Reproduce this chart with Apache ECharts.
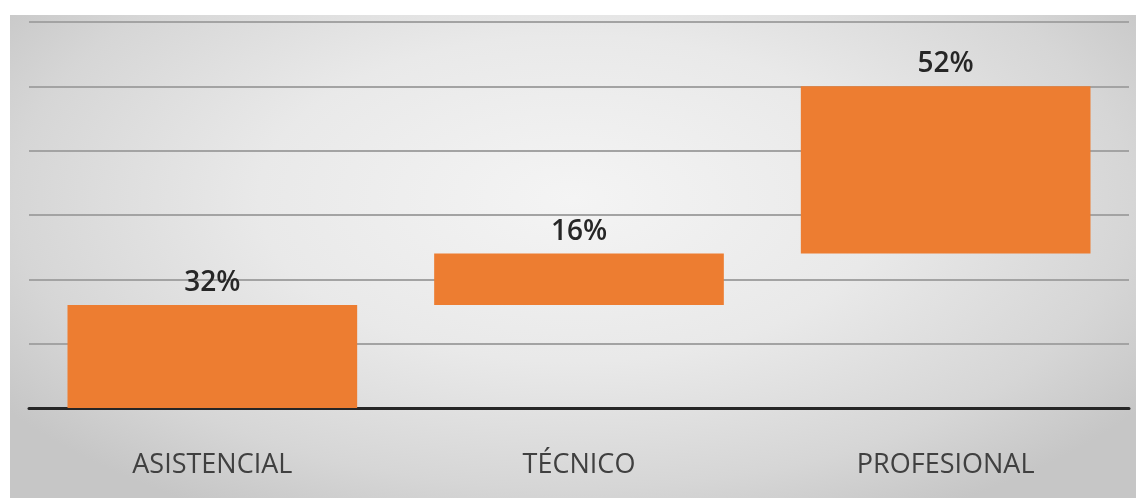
<!DOCTYPE html>
<html>
<head>
<meta charset="utf-8">
<script src="https://cdn.jsdelivr.net/npm/echarts@6/dist/echarts.min.js"></script>
<style>
  html, body { margin: 0; padding: 0; background: #ffffff; }
  #wrap { position: absolute; left: 0; top: 0; width: 1136px; height: 498px; }
  #bg { position: absolute; left: 10px; top: 15px; width: 1126px; height: 483px;
        background: radial-gradient(ellipse 62% 75% at 50% 38%, #f4f4f4 0%, #e9e9e9 45%, #d6d6d6 80%, #c6c6c6 100%); }
  #chart { position: absolute; left: 0; top: 0; width: 1136px; height: 498px; }
</style>
</head>
<body>
<div id="wrap"><div id="bg"></div><div id="chart"></div></div>
<script>
const categories = ['ASISTENCIAL', 'TÉCNICO', 'PROFESIONAL'];
const offsets = [0, 32, 48];
const values = [32, 16, 52];
const yTicks = [0, 20, 40, 60, 80, 100, 120];

const chart = echarts.init(document.getElementById('chart'), null, { renderer: 'canvas' });
chart.setOption({
  backgroundColor: 'transparent',
  animation: false,
  grid: { left: 29, right: 7, top: 22, bottom: 90 },
  xAxis: {
    type: 'category',
    data: categories,
    axisLine: { show: true, lineStyle: { color: '#262626', width: 3 } },
    axisTick: { show: false },
    axisLabel: { color: '#404040', fontFamily: 'Open Sans', fontSize: 27, margin: 44 }
  },
  yAxis: {
    type: 'value',
    min: yTicks[0],
    max: yTicks[yTicks.length - 1],
    interval: 20,
    axisLine: { show: false },
    axisTick: { show: false },
    axisLabel: { show: false },
    splitLine: { show: true, lineStyle: { color: '#a3a3a3', width: 2 } }
  },
  series: [
    {
      type: 'bar',
      stack: 'w',
      data: offsets,
      itemStyle: { color: 'transparent' },
      silent: true,
      barCategoryGap: '21%'
    },
    {
      type: 'bar',
      stack: 'w',
      data: values,
      itemStyle: { color: '#ED7D31' },
      barCategoryGap: '21%',
      label: {
        show: true,
        position: 'top',
        distance: 8,
        formatter: p => p.value + '%',
        color: '#262626',
        fontFamily: 'Open Sans',
        fontWeight: 600,
        fontSize: 28
      }
    }
  ]
});
</script>
</body>
</html>
